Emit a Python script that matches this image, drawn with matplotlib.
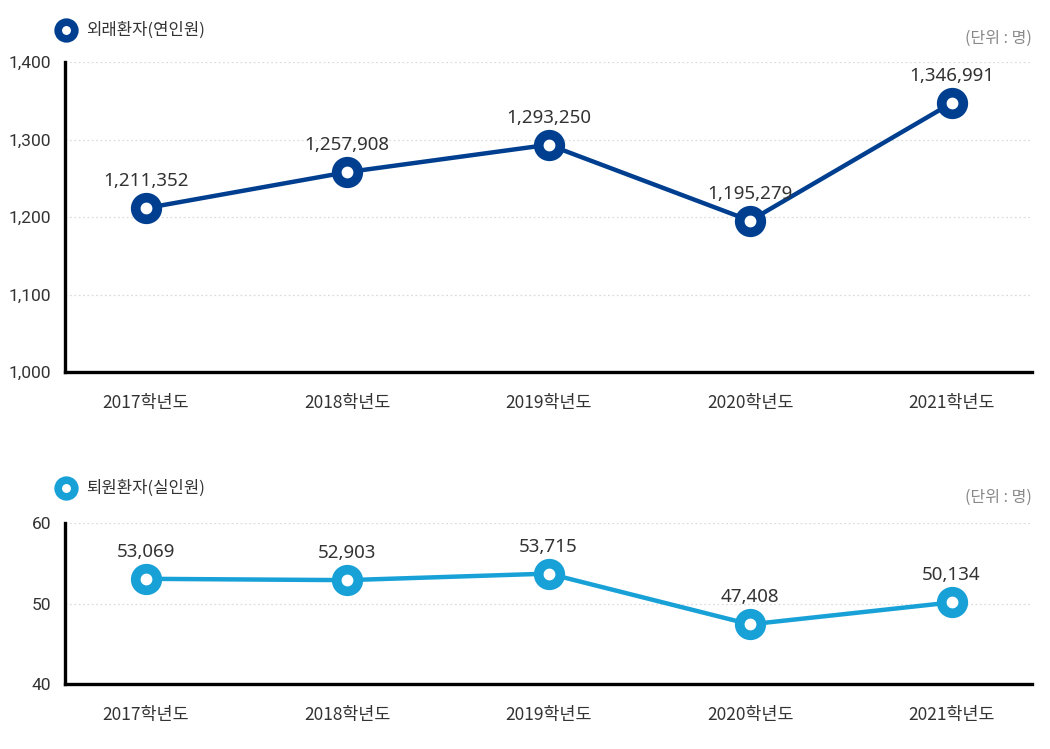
import matplotlib
matplotlib.use('Agg')
import matplotlib.pyplot as plt

plt.rcParams['font.family'] = ['Noto Sans CJK KR', 'DejaVu Sans']

years = ["2017학년도", "2018학년도", "2019학년도", "2020학년도", "2021학년도"]
outpatients = [1211352, 1257908, 1293250, 1195279, 1346991]
discharged = [53069, 52903, 53715, 47408, 50134]

top_ticks = [1000, 1100, 1200, 1300, 1400]
bottom_ticks = [40, 50, 60]

c_top = '#003f8f'
c_bot = '#17a1d7'
TXT = '#333333'


def draw_panel(ax, values, scale, ticks, color):
    xs = list(range(len(values)))
    ys = [v / scale for v in values]
    ax.plot(xs, ys, color=color, lw=3.2, marker='o', ms=15.5, mew=7,
            mfc='white', mec=color, zorder=3, clip_on=False)
    for x, y, v in zip(xs, ys, values):
        ax.annotate("{:,}".format(v), (x, y), xytext=(0, 13), textcoords='offset points',
                    ha='center', va='bottom', fontsize=13.5, color=TXT,
                    family=['Noto Sans', 'DejaVu Sans'])
    ax.set_xlim(-0.40, 4.40)
    ax.set_ylim(ticks[0], ticks[-1])
    ax.set_yticks(ticks)
    ax.set_yticklabels(["{:,}".format(t) for t in ticks], family=['Roboto', 'DejaVu Sans'])
    ax.set_xticks(xs)
    ax.set_xticklabels(years)
    ax.tick_params(axis='both', length=0, labelsize=12.5, colors=TXT)
    ax.tick_params(axis='x', pad=16)
    ax.tick_params(axis='y', pad=10)
    for t in ticks[1:]:
        ax.axhline(t, color='#dddddd', lw=0.9, ls=(0, (1.5, 2)), zorder=1)
    for s in ['top', 'right']:
        ax.spines[s].set_visible(False)
    for s in ['left', 'bottom']:
        ax.spines[s].set_linewidth(2.4)
        ax.spines[s].set_color('black')


fig = plt.figure(figsize=(10.5, 7.49), dpi=100)
ax1 = fig.add_axes([0.0619, 0.5033, 0.9211, 0.4139])
ax2 = fig.add_axes([0.0619, 0.0868, 0.9211, 0.2149])

draw_panel(ax1, outpatients, 1000, top_ticks, c_top)
draw_panel(ax2, discharged, 1000, bottom_ticks, c_bot)

# legend-like headers and unit notes
for y_px, color, title in [(30, c_top, "외래환자(연인원)"), (488, c_bot, "퇴원환자(실인원)")]:
    fy = 1 - y_px / 749
    fig.lines.append(plt.Line2D([66 / 1050], [fy], transform=fig.transFigure, marker='o',
                                ms=12, mew=5.5, mfc='white', mec=color, ls='none'))
    fig.text(86 / 1050, fy, title, ha='left', va='center', fontsize=12, color=TXT)

for y_px in [38, 497]:
    fig.text(1032 / 1050, 1 - y_px / 749, "(단위 : 명)", ha='right', va='center',
             fontsize=11.5, color='#888888')

fig.savefig('out.png', dpi=100)
